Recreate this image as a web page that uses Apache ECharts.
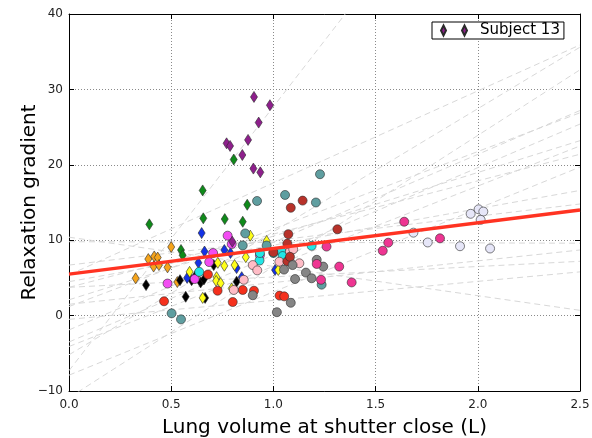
<!DOCTYPE html>
<html>
<head>
<meta charset="utf-8">
<script src="https://cdn.jsdelivr.net/npm/echarts@6/dist/echarts.min.js"></script>
<style>
html,body{margin:0;padding:0;background:#fff;}
#chart{width:592px;height:438px;}
</style>
</head>
<body>
<div id="chart"></div>
<script>
// ---- data ----
const xTicks = [0, 0.5, 1.0, 1.5, 2.0, 2.5];
const yTicks = [-10, 0, 10, 20, 30, 40];

// per-subject regression lines: value at x=0 and at x=2.5
const lineX = [0, 2.5];
const subjStart = [-7.3, 5.4, -10.9, -5.2, -1.9, 1.2, -3.5, 2.1, -4.1, 3.75, -7.9, 4.5, 6.7, 9.8, 1.5, 3.75, -0.5, 10.4];
const subjEnd   = [80.2, 35.9, 32.6, 35.6, 27.2, 26.9, 25.4, 23.2, 22.5, 21.4, 19.7, 16.6, 14.8, 9.6, 8.7, 7.2, 5.8, 0.7];

// overall fit
const fitY = [5.5, 14.0];

const subject13 = [[0.905,29.0],[0.983,27.9],[0.928,25.6],[0.771,22.85],[0.788,22.5],[0.876,23.3],[0.848,21.3],[0.902,19.5],[0.936,19.0],[0.799,9.8]];
const greenD = [[0.393,12.1],[0.654,16.6],[0.657,12.9],[0.762,12.8],[0.806,20.7],[0.85,12.45],[0.872,14.7],[0.548,8.7],[0.556,8.0]];
const orangeD = [[0.5,9.1],[0.388,7.5],[0.417,7.85],[0.434,7.7],[0.414,6.5],[0.44,6.7],[0.482,6.4],[0.326,4.95],[0.53,4.45]];
const blackD = [[0.377,4.05],[0.543,4.7],[0.571,2.5],[0.618,5.25],[0.644,4.4],[0.666,2.35],[0.708,6.7],[0.82,4.5],[0.6,4.7],[0.66,4.8]];
const blueD = [[0.649,10.95],[0.663,8.5],[0.76,8.7],[0.79,8.3],[0.633,7.0],[0.578,5.0],[0.82,6.3],[0.845,5.1],[1.008,6.05]];
const yellowD = [[0.887,10.6],[0.967,9.9],[0.59,5.8],[0.634,5.7],[0.728,7.0],[0.76,6.6],[0.81,6.7],[0.722,5.1],[0.72,4.6],[0.742,4.3],[0.796,3.6],[0.865,7.75],[0.654,2.35],[1.024,6.05]];
const magentaC = [[0.776,10.6],[0.796,9.5],[0.705,8.3],[0.934,8.0],[0.686,7.1],[0.482,4.25],[0.615,4.85]];
const cyanC = [[0.932,7.3],[1.0,8.3],[1.04,8.5],[1.045,7.9],[1.187,9.25],[0.934,8.3],[0.637,5.8]];
const cadetC = [[0.92,15.2],[0.862,10.9],[0.85,9.3],[0.967,9.3],[1.057,16.0],[1.208,15.0],[1.228,18.75],[0.502,0.3],[0.548,-0.5],[1.236,4.1]];
const redC = [[0.465,1.9],[0.68,5.45],[0.727,3.3],[0.801,1.8],[0.85,3.4],[0.905,3.3],[1.03,2.65],[1.053,2.55]];
const pinkC = [[0.899,6.7],[0.921,6.0],[0.806,3.4],[0.855,4.75],[1.029,7.15],[1.081,7.15],[1.127,6.94],[1.081,8.5],[1.097,8.8]];
const brickC = [[1.143,15.25],[1.085,14.3],[1.313,11.45],[1.073,10.8],[1.068,9.55],[1.0,8.4],[1.068,7.2],[1.081,7.8]];
const greyC = [[1.017,0.45],[1.085,1.7],[0.899,2.7],[1.159,5.7],[1.187,4.95],[1.212,7.4],[1.244,6.5],[1.106,4.85],[1.052,6.1],[1.094,6.7]];
const deepPinkC = [[1.26,9.15],[1.212,6.85],[1.322,6.5],[1.383,4.4],[1.233,4.75],[1.64,12.45],[1.562,9.67],[1.535,8.6],[1.815,10.25]];
const lavenderC = [[1.685,11.0],[1.755,9.7],[1.913,9.2],[1.965,13.5],[2.004,14.1],[2.027,13.8],[2.014,12.7],[2.06,8.9]];

// ---- chart ----
const FONT = 'DejaVu Sans';
const chart = echarts.init(document.getElementById('chart'), null, {renderer: 'canvas'});
const minus = v => String(v).replace('-', '\u2212');

const series = [];
subjStart.forEach((s, i) => {
  series.push({
    type: 'line', name: 'fit' + i, xAxisIndex: 0, yAxisIndex: 0,
    data: [[lineX[0], s], [lineX[1], subjEnd[i]]],
    symbol: 'none', silent: true, clip: true, z: 1,
    lineStyle: {color: '#d8d8d8', width: 1, type: [6, 4]}
  });
});

function scat(name, data, color, shape) {
  series.push({
    type: 'scatter', name: name, data: data, xAxisIndex: 0, yAxisIndex: 0,
    symbol: shape === 'd' ? 'diamond' : 'circle',
    symbolSize: shape === 'd' ? [7, 11] : 9,
    itemStyle: {color: color, borderColor: '#2b2b2b', borderWidth: 0.6, opacity: 1},
    z: 3
  });
}
scat('Subject 1', orangeD, '#f5a41c', 'd');
scat('Subject 2', greenD, '#0f8a1a', 'd');
scat('Subject 3', blackD, '#000000', 'd');
scat('Subject 4', blueD, '#1432e6', 'd');
scat('Subject 5', yellowD, '#ffff1a', 'd');
scat('Subject 6', magentaC, '#f24cf2', 'c');
scat('Subject 7', cyanC, '#22e6e6', 'c');
scat('Subject 8', cadetC, '#5f9ea0', 'c');
scat('Subject 9', redC, '#f5301c', 'c');
scat('Subject 10', pinkC, '#ffbcc6', 'c');
scat('Subject 11', brickC, '#b8322a', 'c');
scat('Subject 12', greyC, '#858585', 'c');
scat('Subject 14', deepPinkC, '#ee3592', 'c');
scat('Subject 15', lavenderC, '#e6e6f8', 'c');
scat('Subject 13', subject13, '#8e1f8c', 'd');

series.push({
  type: 'line', name: 'overall', data: [[lineX[0], fitY[0]], [lineX[1], fitY[1]]],
  symbol: 'none', silent: true, z: 5,
  lineStyle: {color: '#ff3322', width: 3.5}
});

const axisCommon = {
  min: 0, max: 2.5, interval: 0.5,
  axisLine: {show: true, onZero: false, lineStyle: {color: '#000', width: 1}},
  axisTick: {show: true, inside: true, length: 5, lineStyle: {color: '#000'}},
};

chart.setOption({
  animation: false,
  backgroundColor: '#fff',
  grid: {left: 69, right: 12, top: 14, bottom: 47, containLabel: false, outerBoundsMode: 'none'},
  legend: {
    data: [{name: 'Subject 13', icon: 'path://M2.5,0 L5,5 L2.5,10 L0,5 Z M23.5,0 L26,5 L23.5,10 L21,5 Z'}],
    left: 432, top: 22,
    itemWidth: 26, itemHeight: 10,
    padding: [1, 4, 1, 8],
    borderColor: '#000', borderWidth: 1, borderRadius: 0,
    backgroundColor: '#fff',
    textStyle: {fontFamily: FONT, fontSize: 15, color: '#000', padding: [0, 0, 0, 8]},
    selectedMode: false
  },
  xAxis: [
    Object.assign({}, axisCommon, {
      type: 'value', position: 'bottom',
      name: 'Lung volume at shutter close (L)', nameLocation: 'middle', nameGap: 27,
      nameMoveOverlap: false,
      nameTextStyle: {fontFamily: FONT, fontSize: 20, color: '#000'},
      axisLabel: {fontFamily: FONT, fontSize: 12, color: '#222', margin: 8, formatter: v => v.toFixed(1)},
      splitLine: {show: true, lineStyle: {color: '#8a8a8a', width: 1, type: [1, 2]}}
    }),
    Object.assign({}, axisCommon, {
      type: 'value', position: 'top', axisLabel: {show: false}, splitLine: {show: false}
    })
  ],
  yAxis: [
    {
      type: 'value', position: 'left', min: -10, max: 40, interval: 10,
      axisLine: {show: true, onZero: false, lineStyle: {color: '#000', width: 1}},
      axisTick: {show: true, inside: true, length: 5, lineStyle: {color: '#000'}},
      name: 'Relaxation gradient', nameLocation: 'middle', nameGap: 29, nameRotate: 90,
      nameMoveOverlap: false,
      nameTextStyle: {fontFamily: FONT, fontSize: 20, color: '#000'},
      axisLabel: {fontFamily: FONT, fontSize: 12, color: '#222', margin: 6, formatter: v => minus(v)},
      splitLine: {show: true, lineStyle: {color: '#8a8a8a', width: 1, type: [1, 2]}}
    },
    {
      type: 'value', position: 'right', min: -10, max: 40, interval: 10,
      axisLine: {show: true, onZero: false, lineStyle: {color: '#000', width: 1}},
      axisTick: {show: true, inside: true, length: 5, lineStyle: {color: '#000'}},
      axisLabel: {show: false}, splitLine: {show: false}
    }
  ],
  series: series
});
</script>
</body>
</html>
